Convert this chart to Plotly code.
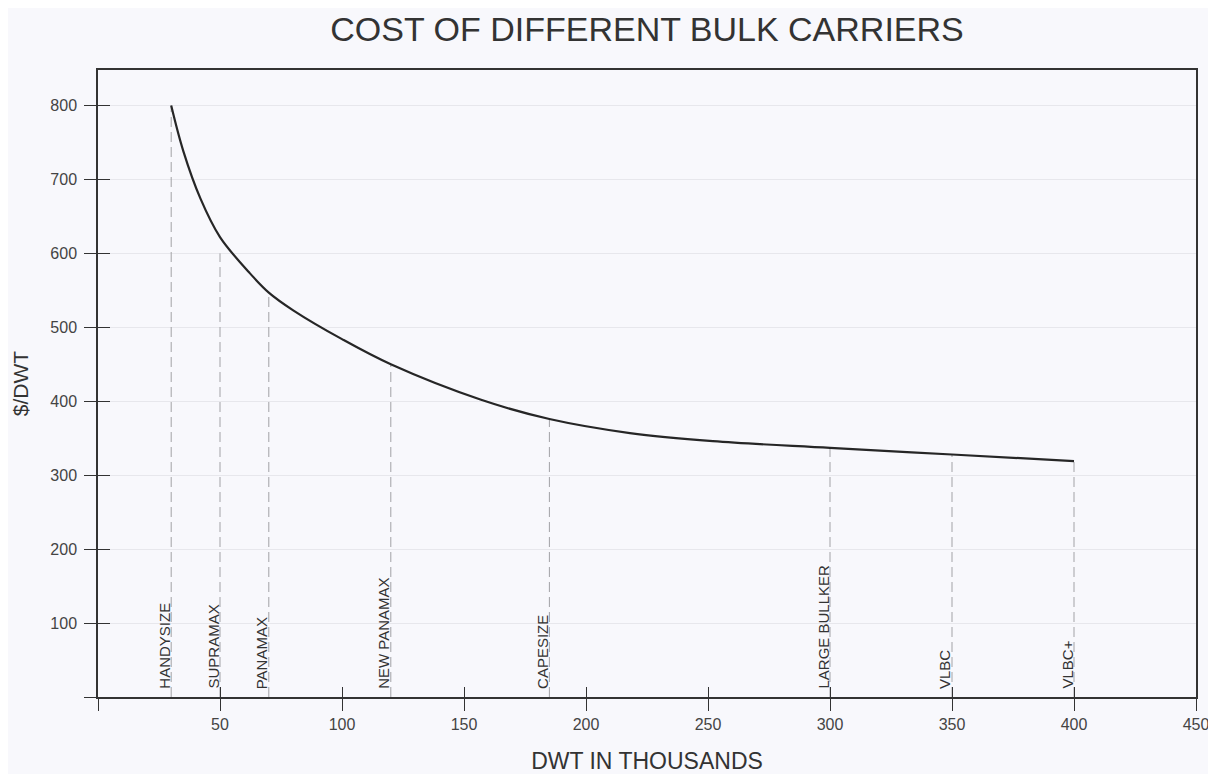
import plotly.graph_objects as go

# Cost curve (DWT in thousands vs $/DWT)
dwt = [30, 35, 42, 50, 62, 70, 80, 100, 120, 157, 185, 218, 252, 300, 350, 400]
cost = [800, 738, 674, 622, 574, 547, 523, 484, 450, 402, 376, 357, 346, 337, 328, 319]

# Ship classes
class_names = ["HANDYSIZE", "SUPRAMAX", "PANAMAX", "NEW PANAMAX", "CAPESIZE",
               "LARGE BULLKER", "VLBC", "VLBC+"]
class_dwt = [30, 50, 70, 120, 185, 300, 350, 400]
class_line_top = [800, 600, 547, 450, 376, 337, 328, 319]

x_ticks = [0, 50, 100, 150, 200, 250, 300, 350, 400, 450]
x_ticktext = ["", "50", "100", "150", "200", "250", "300", "350", "400", "450"]
y_ticks = [0, 100, 200, 300, 400, 500, 600, 700, 800]
y_ticktext = ["", "100", "200", "300", "400", "500", "600", "700", "800"]

BG = "#f8f8fc"
FONT = "Liberation Sans, Arial, sans-serif"
W, H = 1208, 766

fig = go.Figure()

for name, xd, yc in zip(class_names, class_dwt, class_line_top):
    fig.add_trace(go.Scatter(
        x=[xd, xd], y=[0, yc], mode="lines",
        line=dict(color="#a2a2a6", width=1, dash="10px,5px"),
        hoverinfo="skip", showlegend=False))
    fig.add_annotation(
        x=xd, y=0, xref="x", yref="y", text=name, textangle=-90,
        showarrow=False, xanchor="right", yanchor="bottom",
        yshift=7, xshift=2, borderpad=0,
        font=dict(family=FONT, size=15, color="#333"))

fig.add_trace(go.Scatter(
    x=dwt, y=cost, mode="lines",
    line=dict(color="#262626", width=2.2, shape="spline", smoothing=1.0),
    showlegend=False, name="Cost"))

fig.update_layout(
    width=W, height=H,
    margin=dict(l=90, r=20, t=62, b=77, autoexpand=False),
    paper_bgcolor=BG, plot_bgcolor=BG,
    font=dict(family=FONT, color="#333"),
    title=dict(text="COST OF DIFFERENT BULK CARRIERS", x=0.5, xref="paper",
               y=1 - 21 / H, yanchor="middle", yref="container",
               font=dict(family=FONT, size=34, color="#333")),
    xaxis=dict(range=[0, 450], tickvals=x_ticks, ticktext=x_ticktext,
               ticks="outside", ticklen=12, tickwidth=1.3, tickcolor="#333",
               showline=True, linecolor="#333", linewidth=1.5, mirror=True,
               showgrid=False, zeroline=False, automargin=False,
               tickfont=dict(family=FONT, size=16, color="#444"),
               title=dict(text="DWT IN THOUSANDS", standoff=22,
                          font=dict(family=FONT, size=23, color="#333"))),
    yaxis=dict(range=[0, 848], tickvals=y_ticks, ticktext=y_ticktext,
               ticks="outside", ticklen=12, tickwidth=1.3, tickcolor="#333",
               showline=True, linecolor="#333", linewidth=1.5, mirror=True,
               showgrid=True, gridcolor="#e7e7ec", gridwidth=1,
               zeroline=False, ticklabelstandoff=4, automargin=False,
               tickfont=dict(family=FONT, size=16, color="#444"),
               title=dict(text="$/DWT", standoff=16,
                          font=dict(family=FONT, size=21, color="#333"))),
    xaxis2=dict(range=[0, 450], overlaying="x", anchor="y", side="bottom",
                tickvals=x_ticks, ticks="inside", ticklen=10, tickwidth=1.3,
                tickcolor="#333", showticklabels=False, showgrid=False,
                zeroline=False, showline=False, automargin=False),
    yaxis2=dict(range=[0, 848], overlaying="y", anchor="x", side="left",
                tickvals=y_ticks, ticks="inside", ticklen=12, tickwidth=1.3,
                tickcolor="#333", showticklabels=False, showgrid=False,
                zeroline=False, showline=False, automargin=False),
)

# invisible trace to ensure overlay axes render
fig.add_trace(go.Scatter(x=[None], y=[None], xaxis="x2", yaxis="y2",
                         showlegend=False, hoverinfo="skip"))

fig.write_html("out.html")
